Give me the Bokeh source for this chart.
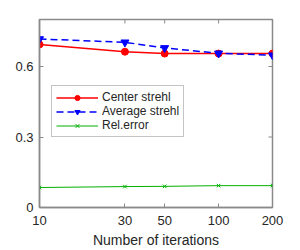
from bokeh.plotting import figure
from bokeh.models import FixedTicker, PrintfTickFormatter, Legend, Range1d
from bokeh.embed import file_html
from bokeh.resources import INLINE
import numpy as np

iterations = [10, 30, 50, 100, 200]
center_strehl = [0.694, 0.663, 0.655, 0.655, 0.655]
average_strehl = [0.717, 0.703, 0.679, 0.656, 0.648]
rel_error = [0.085, 0.089, 0.090, 0.093, 0.093]
x_ticks = [10, 30, 50, 100, 200]
y_ticks = [0, 0.3, 0.6]
x_min, x_max = 10, 200
y_min, y_max = 0, 0.8

FONT = "Liberation Sans"
AX = "#8a8a8a"
TXT = "#262626"

p = figure(width=300, height=250, output_backend="svg", toolbar_location=None,
           x_axis_type="log", x_range=Range1d(x_min, x_max), y_range=Range1d(y_min, y_max),
           min_border_left=39, min_border_right=28, min_border_top=19, min_border_bottom=42)
p.background_fill_color = "white"
p.border_fill_color = "white"
p.grid.visible = False
p.outline_line_color = AX
p.outline_line_width = 1.5

p.xaxis.ticker = FixedTicker(ticks=x_ticks)
p.xaxis.formatter = PrintfTickFormatter(format="%d")
p.yaxis.ticker = FixedTicker(ticks=y_ticks)
p.xaxis.axis_label = "Number of iterations"
for ax in [p.xaxis[0], p.yaxis[0]]:
    ax.axis_line_color = AX
    ax.axis_line_width = 1.5
    ax.major_tick_line_color = AX
    ax.major_tick_in = 4
    ax.major_tick_out = 0
    ax.minor_tick_line_color = None
    ax.major_label_text_font = FONT
    ax.major_label_text_font_size = "13px"
    ax.major_label_text_color = TXT
    ax.axis_label_text_font = FONT
    ax.axis_label_text_font_size = "14px"
    ax.axis_label_text_font_style = "normal"
    ax.axis_label_text_color = TXT
p.xaxis.major_label_standoff = 8
p.yaxis.major_label_standoff = 6
p.xaxis.axis_label_standoff = 4

# mirrored inward ticks on top and right edges
top_ticks = x_ticks[1:-1]
p.ray(x=top_ticks, y=[y_max] * len(top_ticks), length=4, length_units="screen",
      angle=-np.pi / 2, line_color=AX, line_width=1)
right_ticks = y_ticks[1:]
p.ray(x=[x_max] * len(right_ticks), y=right_ticks, length=4, length_units="screen",
      angle=np.pi, line_color=AX, line_width=1)

r1 = p.line(iterations, center_strehl, line_color="#ff0000", line_width=1.5)
r1m = p.scatter(iterations, center_strehl, marker="circle", size=7, fill_color="#ff0000", line_color="#ff0000")
r2 = p.line(iterations, average_strehl, line_color="#0000ff", line_width=1.5, line_dash="7 4")
r2m = p.scatter(iterations, average_strehl, marker="inverted_triangle", size=8, fill_color="#0000ff", line_color="#0000ff")
r3 = p.line(iterations, rel_error, line_color="#00b000", line_width=1)
r3m = p.scatter(iterations, rel_error, marker="x", size=5, line_color="#00b000", line_width=1)

legend = Legend(items=[("Center strehl", [r1, r1m]), ("Average strehl", [r2, r2m]), ("Rel.error", [r3, r3m])],
                location=(12, 70), border_line_color=AX, border_line_width=1.5,
                label_text_font=FONT, label_text_font_size="12px", label_text_color=TXT,
                glyph_width=42, glyph_height=13, label_height=13, spacing=0, padding=4, margin=0,
                label_standoff=4, background_fill_alpha=1)
p.add_layout(legend, "center")

open("out.html", "w").write(file_html(p, INLINE))
